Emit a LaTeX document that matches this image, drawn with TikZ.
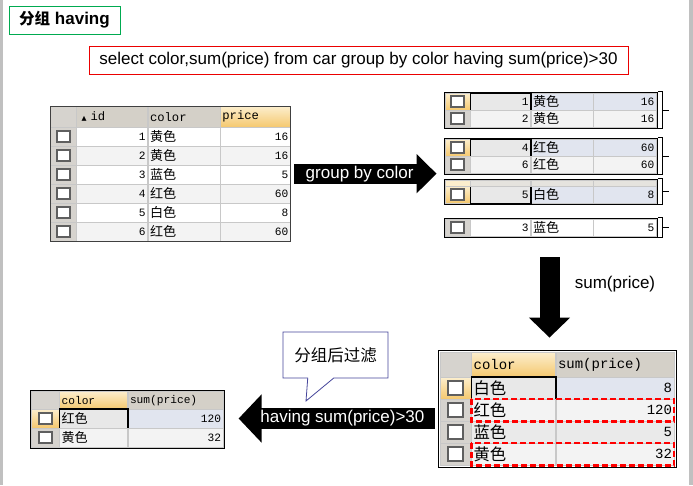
\documentclass[tikz,border=0pt]{standalone}
\usepackage{fontspec}
\setmainfont{Liberation Sans}
\setmonofont{Liberation Mono}
\newfontfamily\cjk{Noto Sans CJK SC}
\newfontfamily\cjktab[Scale=1.17]{Noto Sans CJK SC}
\newfontfamily\sym{DejaVu Sans}
\usetikzlibrary{arrows.meta, positioning, fit, calc, shapes.callouts}
\newcommand{\zh}[1]{{\cjktab #1}}

\definecolor{gridgray}{RGB}{200,200,200}
\definecolor{hdrgray}{RGB}{212,208,200}
\definecolor{rowgray}{RGB}{243,243,243}
\definecolor{rowgrayb}{RGB}{234,234,234}
\definecolor{chkgray}{RGB}{214,211,206}
\definecolor{boxgray}{RGB}{95,95,95}
\definecolor{selblue}{RGB}{225,229,239}
\definecolor{focgray}{RGB}{232,232,232}
\definecolor{hdrtop}{RGB}{252,238,205}
\definecolor{hdrorange}{RGB}{245,200,110}
\definecolor{calloutblue}{RGB}{70,70,155}
\definecolor{titlegreen}{RGB}{0,170,80}
\definecolor{sqlred}{RGB}{235,0,0}
\definecolor{edgegray}{RGB}{192,192,192}

\tikzstyle{cell}      = [anchor=north west, draw=gridgray, inner xsep=2pt, inner ysep=0pt,
                         font=\ttfamily\fontsize{11.2}{12}\selectfont]
\tikzstyle{bigtext}   = [font=\ttfamily\fontsize{14}{15}\selectfont]
\tikzstyle{midtext}   = [font=\ttfamily\fontsize{12.2}{13}\selectfont]
\tikzstyle{hdr}       = [cell, fill=hdrgray, align=left]
\tikzstyle{ohdr}      = [cell, top color=hdrtop, bottom color=hdrorange, align=left]
\tikzstyle{chk}       = [cell, fill=chkgray]
\tikzstyle{ochk}      = [cell, top color=hdrtop, bottom color=hdrorange]
\tikzstyle{cbox}      = [draw=boxgray, line width=1.8pt, fill=white, minimum width=13pt,
                         minimum height=11pt, inner sep=0pt]
\tikzstyle{focusline} = [draw=black, line width=1.5pt]
\tikzstyle{frame}     = [draw=black, line width=0.8pt, inner sep=0pt]
\tikzstyle{brace}     = [black, line width=0.9pt]
\tikzstyle{hilite}    = [draw=red, line width=2.2pt, dash pattern=on 6pt off 3pt]
\tikzstyle{blkarrow}  = [line width=20pt, -{Triangle[length=20pt, width=38pt]}]
\tikzstyle{arrowtext} = [text=white, font=\fontsize{17}{17}\selectfont]

\begin{document}
\begin{tikzpicture}[x=1pt, y=-1pt]
  \useasboundingbox (0,0) rectangle (693,485);
  \fill[white] (0,0) rectangle (693,485);
  \fill[edgegray] (0,0) rectangle (3,485);
  \fill[edgegray] (689,0) rectangle (693,485);

  % title and query
  \node[draw=titlegreen, line width=1pt, minimum width=111pt, minimum height=28pt,
        font=\bfseries\fontsize{17}{17}\selectfont] (title) at (64.5,20)
        {{\cjk\fontsize{15.5}{15.5}\selectfont 分组} having};
  \node[draw=sqlred, line width=1pt, minimum width=539pt, minimum height=28pt,
        font=\fontsize{17}{17}\selectfont] (sql) at (358.5,60)
        {select color,sum(price) from car group by color having sum(price)>30};

  % source table
  \node[chk, text width=22pt, minimum height=21pt] (m-0-0) at (50,106) {};
  \node[hdr, midtext, text width=67pt, minimum height=21pt] (m-0-1) at (m-0-0.north east)
        {\hspace{3pt}{\sym\fontsize{6.5}{6.5}\selectfont ▲}\hspace{4pt}id};
  \node[hdr, midtext, text width=68pt, minimum height=21pt] (m-0-2) at (m-0-1.north east) {color};
  \node[ohdr, midtext, text width=66pt, minimum height=21pt] (m-0-3) at (m-0-2.north east) {price};
  \foreach \i/\id/\col/\pr in {1/1/黄色/16, 2/2/黄色/16, 3/3/蓝色/5,
                               4/4/红色/60, 5/5/白色/8, 6/6/红色/60} {
    \ifodd\i \def\rf{white}\else\def\rf{rowgray}\fi
    \node[chk, text width=22pt, minimum height=19pt] (m-\i-0) at (50,{127+19*(\i-1)}) {};
    \node[cbox] (mb-\i) at (m-\i-0.center) {};
    \node[cell, fill=\rf, text width=67pt, minimum height=19pt, align=right] (m-\i-1)
          at (m-\i-0.north east) {\id};
    \node[cell, fill=\rf, text width=68pt, minimum height=19pt, align=left] (m-\i-2)
          at (m-\i-1.north east) {\zh{\col}};
    \node[cell, fill=\rf, text width=66pt, minimum height=19pt, align=right] (m-\i-3)
          at (m-\i-2.north east) {\pr};
  }
  \node[frame, draw=black!75, fit=(m-0-0)(m-6-3)] (src) {};

  % grouped rows
  \foreach \g/\y/\id/\col/\pr in {1/93/1/黄色/16, 2/139/4/红色/60, 3/186/5/白色/8} {
    \node[ochk, text width=21pt, minimum height=17pt] (g\g-1-0) at (445,\y) {};
    \node[cbox] (g\g b-1) at (g\g-1-0.center) {};
    \node[cell, fill=focgray, text width=56pt, minimum height=17pt, align=right] (g\g-1-1)
          at (g\g-1-0.north east) {\id};
    \node[cell, fill=selblue, text width=58pt, minimum height=17pt, align=left] (g\g-1-2)
          at (g\g-1-1.north east) {\zh{\col}};
    \node[cell, fill=selblue, text width=59pt, minimum height=17pt, align=right] (g\g-1-3)
          at (g\g-1-2.north east) {\pr};
    \draw[focusline] (g\g-1-1.north west) rectangle (g\g-1-1.south east);
  }
  \foreach \g/\y/\id/\col/\pr in {1/110/2/黄色/16, 2/156/6/红色/60} {
    \node[chk, text width=21pt, minimum height=17pt] (g\g-2-0) at (445,\y) {};
    \node[cbox] (g\g b-2) at (g\g-2-0.center) {};
    \node[cell, fill=rowgray, text width=56pt, minimum height=17pt, align=right] (g\g-2-1)
          at (g\g-2-0.north east) {\id};
    \node[cell, fill=rowgray, text width=58pt, minimum height=17pt, align=left] (g\g-2-2)
          at (g\g-2-1.north east) {\zh{\col}};
    \node[cell, fill=rowgray, text width=59pt, minimum height=17pt, align=right] (g\g-2-3)
          at (g\g-2-2.north east) {\pr};
  }
  \node[cell, fill=hdrtop, text width=21pt, minimum height=6pt] (g3-0-0) at (445,180) {};
  \node[cell, fill=hdrgray!60, text width=56pt, minimum height=6pt] (g3-0-1) at (g3-0-0.north east) {};
  \node[cell, fill=hdrgray!60, text width=58pt, minimum height=6pt] (g3-0-2) at (g3-0-1.north east) {};
  \node[cell, fill=hdrgray!60, text width=59pt, minimum height=6pt] (g3-0-3) at (g3-0-2.north east) {};
  \node[chk, text width=21pt, minimum height=17pt] (g4-1-0) at (445,219) {};
  \node[cbox] (g4b-1) at (g4-1-0.center) {};
  \node[cell, fill=white, text width=56pt, minimum height=17pt, align=right] (g4-1-1)
        at (g4-1-0.north east) {3};
  \node[cell, fill=white, text width=58pt, minimum height=17pt, align=left] (g4-1-2)
        at (g4-1-1.north east) {\zh{蓝色}};
  \node[cell, fill=white, text width=59pt, minimum height=17pt, align=right] (g4-1-3)
        at (g4-1-2.north east) {5};

  \node[frame, inner sep=1pt, fit=(g1-1-0)(g1-2-3)] (g1) {};
  \node[frame, inner sep=1pt, fit=(g2-1-0)(g2-2-3)] (g2) {};
  \node[frame, inner sep=1pt, fit=(g3-0-0)(g3-1-3)] (g3) {};
  \node[frame, inner sep=1pt, fit=(g4-1-0)(g4-1-3)] (g4) {};
  \foreach \g in {1,2,3,4} {
    \draw[brace] ([xshift=0pt]g\g.north east) -- ++(4,0) |- ([xshift=0pt]g\g.south east);
    \draw[brace] ([xshift=4pt]g\g.east) -- ++(7,0);
  }

  % summed table
  \node[chk, bigtext, text width=27pt, minimum height=25pt] (r-0-0) at (440,352) {};
  \node[ohdr, bigtext, text width=80pt, minimum height=25pt] (r-0-1) at (r-0-0.north east) {color};
  \node[hdr, bigtext, text width=114pt, minimum height=25pt] (r-0-2) at (r-0-1.north east) {sum(price)};
  \node[ochk, bigtext, text width=27pt, minimum height=22pt] (r-1-0) at (440,377) {};
  \node[cbox, minimum width=15pt, minimum height=14pt] (rb-1) at (r-1-0.center) {};
  \node[cell, bigtext, fill=focgray, text width=80pt, minimum height=22pt, align=left] (r-1-1)
        at (r-1-0.north east) {\zh{白色}};
  \node[cell, bigtext, fill=selblue, text width=114pt, minimum height=22pt, align=right] (r-1-2)
        at (r-1-1.north east) {8};
  \draw[focusline] (r-1-1.north west) rectangle (r-1-1.south east);
  \foreach \i/\col/\s/\rf in {2/红色/120/rowgray, 3/蓝色/5/rowgrayb, 4/黄色/32/rowgray} {
    \node[chk, bigtext, text width=27pt, minimum height=22pt] (r-\i-0) at (440,{377+22*(\i-1)}) {};
    \node[cbox, minimum width=15pt, minimum height=14pt] (rb-\i) at (r-\i-0.center) {};
    \node[cell, bigtext, fill=\rf, text width=80pt, minimum height=22pt, align=left] (r-\i-1)
          at (r-\i-0.north east) {\zh{\col}};
    \node[cell, bigtext, fill=\rf, text width=114pt, minimum height=22pt, align=right] (r-\i-2)
          at (r-\i-1.north east) {\s};
  }
  \draw[hilite] (r-2-1.north west) rectangle (r-2-2.south east);
  \draw[hilite] (r-4-1.north west) rectangle (r-4-2.south east);
  \node[frame, inner sep=2pt, fit=(r-0-0)(r-4-2)] (res) {};

  % filtered table
  \node[chk, text width=24pt, minimum height=18pt] (f-0-0) at (31,391) {};
  \node[ohdr, text width=64pt, minimum height=18pt] (f-0-1) at (f-0-0.north east) {color};
  \node[hdr, text width=91pt, minimum height=18pt] (f-0-2) at (f-0-1.north east) {sum(price)};
  \node[ochk, text width=24pt, minimum height=19pt] (f-1-0) at (31,409) {};
  \node[cbox] (fb-1) at (f-1-0.center) {};
  \node[cell, fill=focgray, text width=64pt, minimum height=19pt, align=left] (f-1-1)
        at (f-1-0.north east) {\zh{红色}};
  \node[cell, fill=selblue, text width=91pt, minimum height=19pt, align=right] (f-1-2)
        at (f-1-1.north east) {120};
  \draw[focusline] (f-1-1.north west) rectangle (f-1-1.south east);
  \node[chk, text width=24pt, minimum height=19pt] (f-2-0) at (31,428) {};
  \node[cbox] (fb-2) at (f-2-0.center) {};
  \node[cell, fill=rowgray, text width=64pt, minimum height=19pt, align=left] (f-2-1)
        at (f-2-0.north east) {\zh{黄色}};
  \node[cell, fill=rowgray, text width=91pt, minimum height=19pt, align=right] (f-2-2)
        at (f-2-1.north east) {32};
  \node[frame, inner sep=1pt, fit=(f-0-0)(f-2-2)] (fin) {};

  % block arrows
  \draw[blkarrow] ([xshift=3pt]src.east) -- ([xshift=-7pt]src.east -| g2.west)
        node[arrowtext, pos=0.46] (grpby) {group by color};
  \coordinate (sp) at (549.5,257);
  \draw[blkarrow, -{Triangle[length=20pt, width=40pt]}, shorten >=12pt] (sp) -- (sp |- res.north);
  \node[font=\fontsize{17}{17}\selectfont] (sumlbl) at (615,284) {sum(price)};
  \coordinate (hv) at (435,418.5);
  \draw[blkarrow, line width=21pt, -{Triangle[length=23pt, width=47pt]}, shorten >=14pt]
        (hv) -- (hv -| fin.east) node[arrowtext, pos=0.44] (hav) {having sum(price)>30};

  % callout
  \node[rectangle callout, draw=calloutblue, line width=0.8pt, fill=white,
        minimum width=105pt, minimum height=46pt, callout absolute pointer={(306,401)},
        callout pointer width=26pt] (note) at (335.5,355)
        {\cjk\fontsize{16.5}{16.5}\selectfont 分组后过滤};
\end{tikzpicture}
\end{document}
